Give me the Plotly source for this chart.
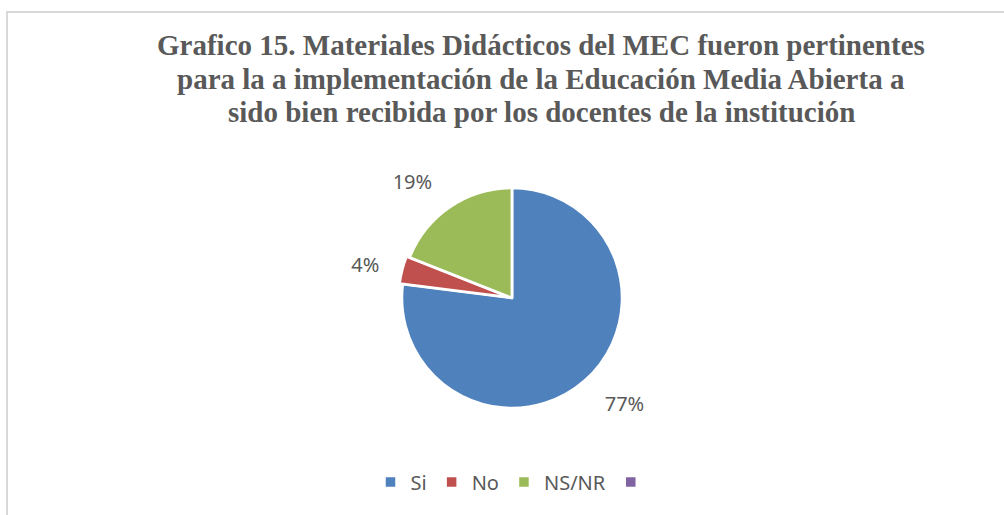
import plotly.graph_objects as go

labels = ["Si", "No", "NS/NR", " "]
values = [77, 4, 19, 0]
text_labels = ["77%", "4%", "19%", ""]
colors = ["#4F81BD", "#C0504D", "#9BBB59", "#8064A2"]
pulls = [0, 0.03, 0, 0]
title_lines = [
    "Grafico 15. Materiales Didácticos del MEC fueron pertinentes",
    "para la a implementación de la Educación Media Abierta a",
    "sido bien recibida por los docentes de la institución",
]

W, H = 1004, 515
cx, cy, r = 512, 298, 110
r_dom = r * (1 + max(pulls))
r_lab = 130


def px(X):
    return X / W


def py(Y):
    return 1 - Y / H


fig = go.Figure()
# visible pie
fig.add_trace(go.Pie(
    labels=labels, values=values, pull=pulls,
    textinfo="none",
    sort=False, direction="clockwise", rotation=0,
    marker=dict(colors=colors, line=dict(color="white", width=2.5)),
    domain=dict(x=[px(cx - r_dom), px(cx + r_dom)], y=[py(cy + r_dom), py(cy - r_dom)]),
    hoverinfo="label+percent",
    showlegend=True,
))
# transparent pie carrying the outside data labels
fig.add_trace(go.Pie(
    labels=labels, values=values, text=text_labels,
    textinfo="text", textposition="outside",
    sort=False, direction="clockwise", rotation=0,
    marker=dict(colors=["rgba(0,0,0,0)"] * 4, line=dict(width=0)),
    outsidetextfont=dict(family="Noto Sans", size=20, color="#595959"),
    domain=dict(x=[px(cx - r_lab), px(cx + r_lab)], y=[py(cy + r_lab), py(cy - r_lab)]),
    hoverinfo="skip",
    showlegend=False,
))

title_y = [45, 79, 112]
annotations = [
    dict(text="<b>%s</b>" % t, x=px(541), y=py(yy), xref="paper", yref="paper",
         xanchor="center", yanchor="middle", showarrow=False,
         font=dict(family="Liberation Serif", size=29, color="#595959"))
    for t, yy in zip(title_lines, title_y)
]

fig.update_layout(
    width=W, height=H,
    margin=dict(l=0, r=0, t=0, b=0),
    paper_bgcolor="white",
    showlegend=True,
    annotations=annotations,
    legend=dict(
        orientation="h", x=px(516), xanchor="center", y=py(482), yanchor="middle",
        font=dict(family="Noto Sans", size=20, color="#595959"),
        itemwidth=30,
    ),
    shapes=[dict(type="rect", xref="paper", yref="paper",
                 x0=px(7), x1=1.02, y0=-0.02, y1=py(12),
                 line=dict(color="#d9d9d9", width=2))],
)

fig.write_html(
    "out.html",
    config={"displayModeBar": False},
    post_script="document.body.style.margin='0';document.documentElement.style.overflow='hidden';",
)
